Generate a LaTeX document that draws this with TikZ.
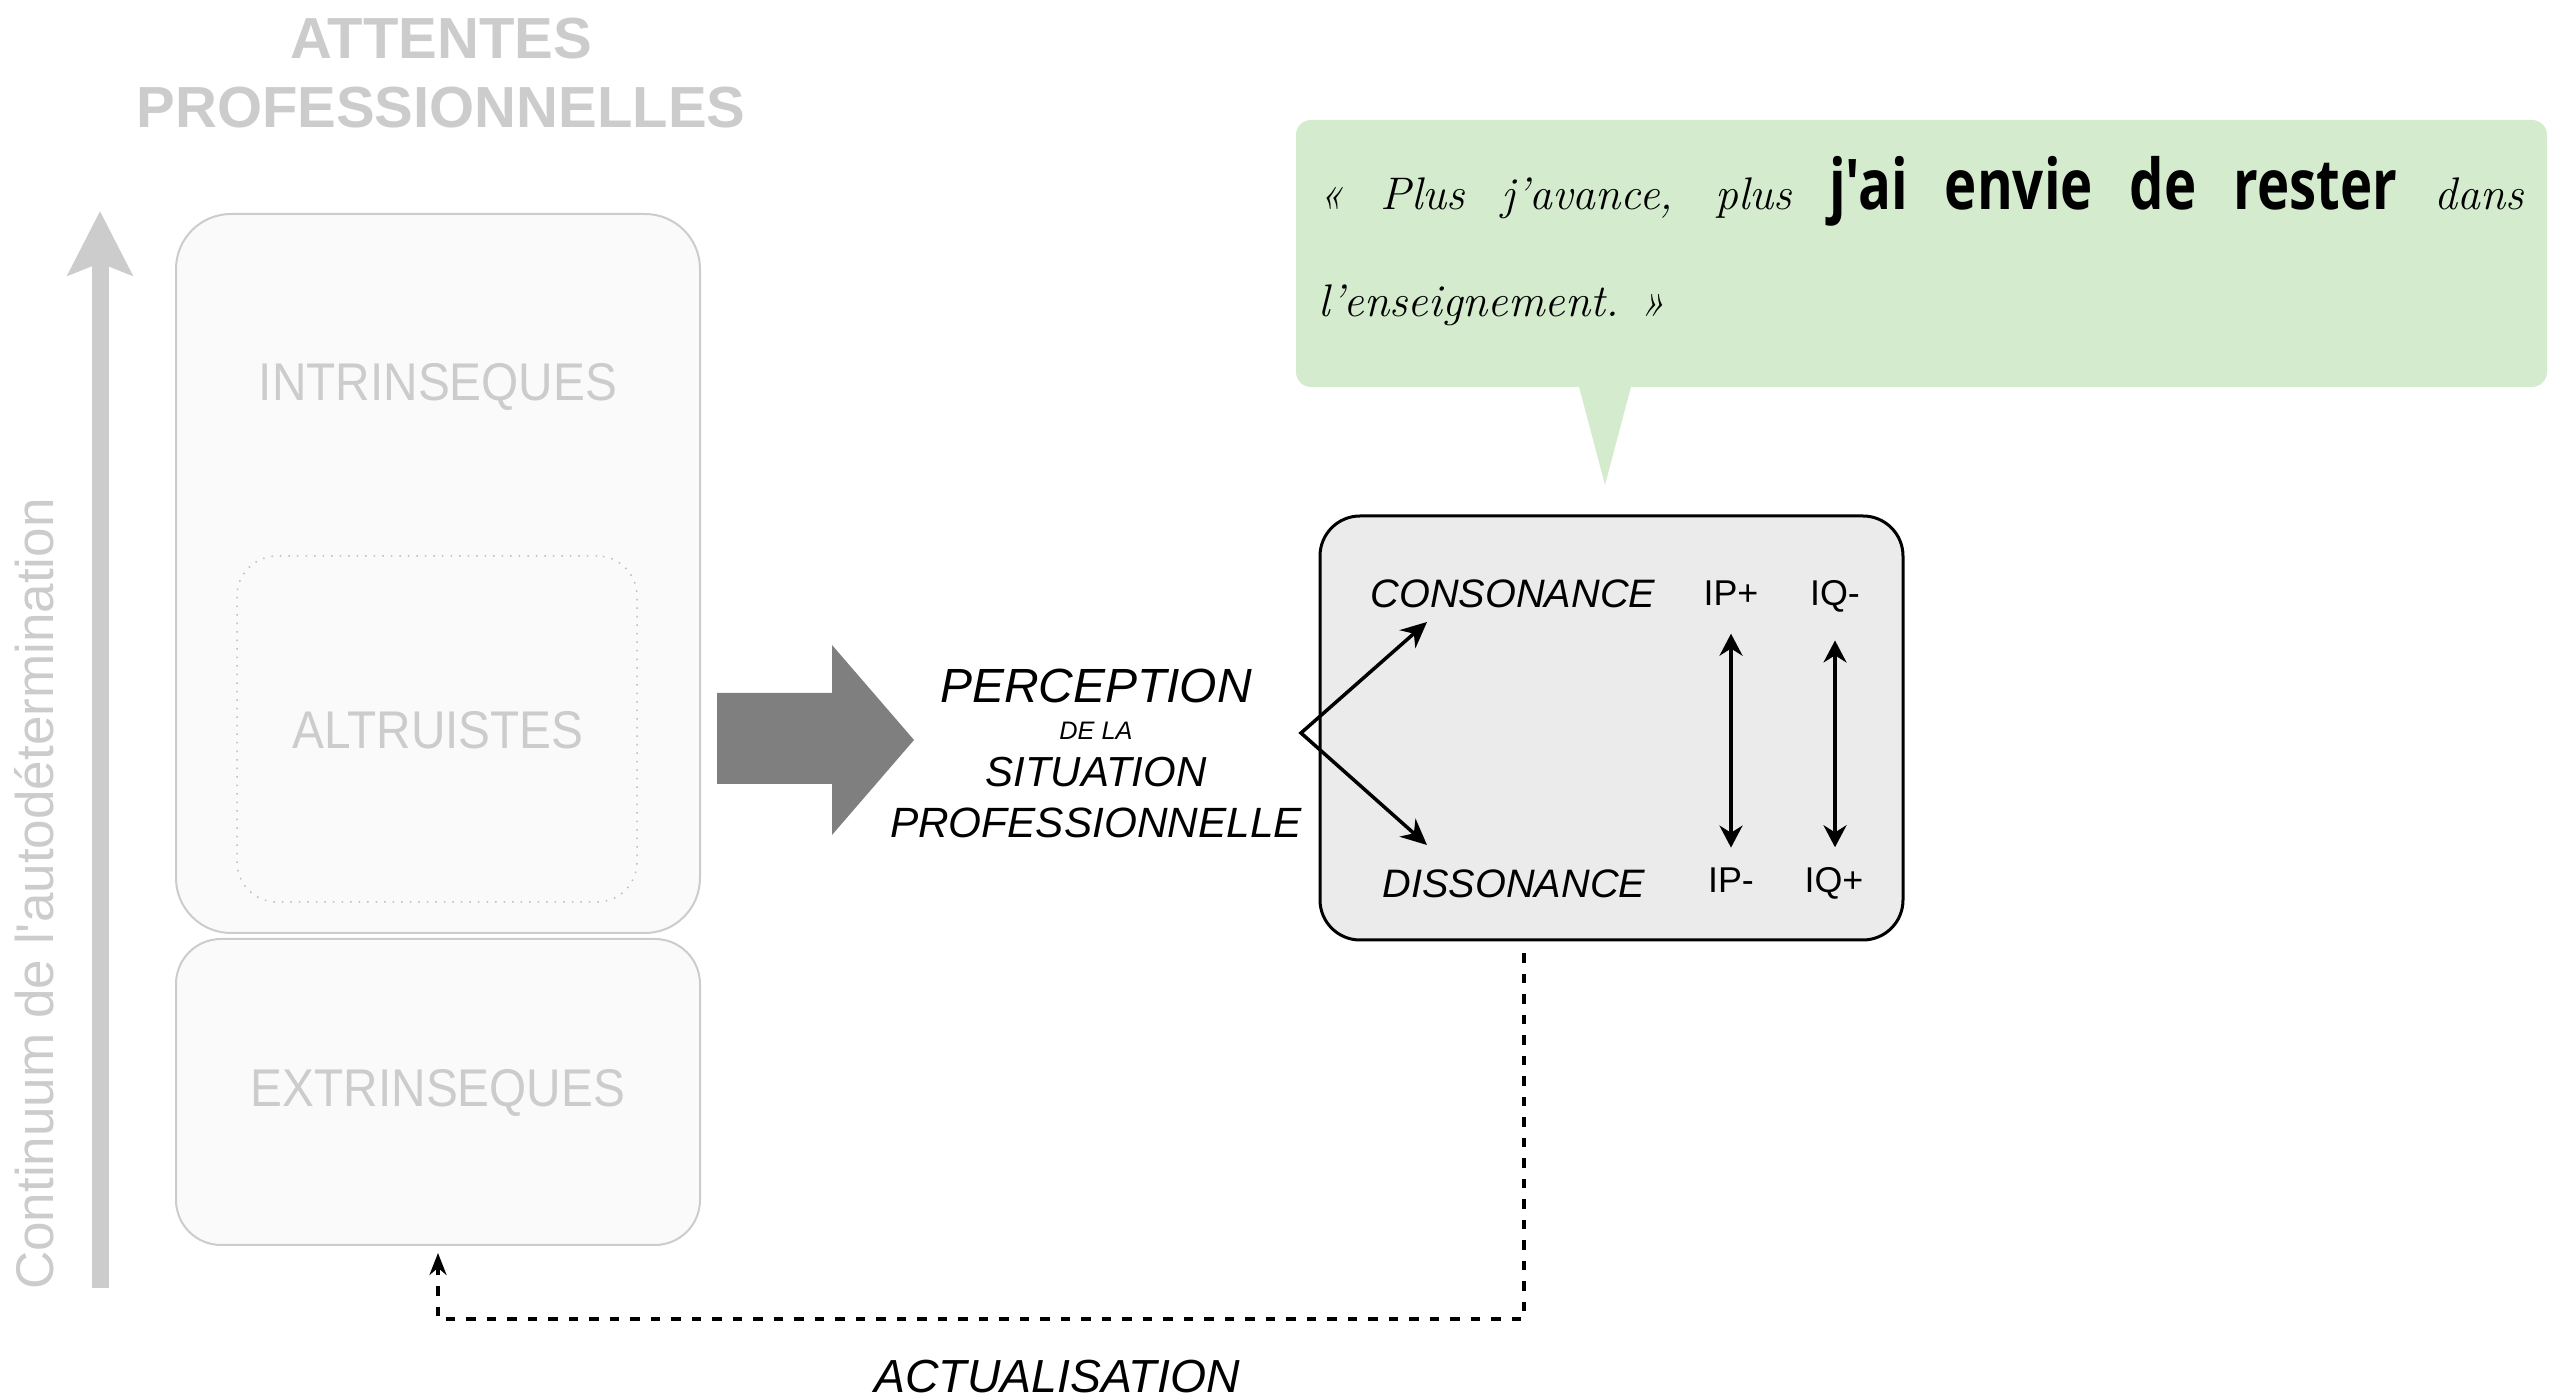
\documentclass[tikz,border=0pt]{standalone}
\usepackage{fontspec}
\usepackage{graphicx}
\usetikzlibrary{arrows.meta}
\newfontfamily\hv{Liberation Sans}
\newfontfamily\bqf{Open Sans}
\definecolor{lightline}{HTML}{CCCCCC}
\definecolor{lightfill}{HTML}{FAFAFA}
\definecolor{graytext}{HTML}{CCCCCC}
\definecolor{dotline}{HTML}{BDBDBD}
\definecolor{bigarrow}{HTML}{7F7F7F}
\definecolor{statefill}{HTML}{EBEBEB}
\definecolor{quotefill}{HTML}{D4EBCE}
\newcommand\bqw[1]{\scalebox{0.78}[1]{\bqf\upshape\bfseries\fontsize{19.9pt}{22pt}\selectfont #1}}
\newcommand\nrw[1]{\scalebox{0.9}[1]{#1}}
\tikzset{
  lightbox/.style={draw=lightline, fill=lightfill, line width=0.2mm, minimum width=52.4mm, inner sep=0},
  dotbox/.style={draw=dotline, dotted, line width=0.15mm, rounded corners=4mm, minimum width=40mm, minimum height=34.6mm, inner sep=0},
  titletxt/.style={text=graytext, inner sep=0, font=\hv\bfseries\fontsize{16.5pt}{19pt}\selectfont},
  graytxt/.style={text=graytext, inner sep=0, font=\hv\fontsize{15.1pt}{18pt}\selectfont},
  perctxt/.style={inner sep=0, font=\hv\itshape},
  statebox/.style={draw=black, fill=statefill, line width=0.3mm, rounded corners=4mm, minimum width=58.3mm, minimum height=42.4mm, inner sep=0},
  statetxt/.style={inner sep=0, font=\hv\itshape\fontsize{11.3pt}{13pt}\selectfont},
  ipqtxt/.style={inner sep=0, font=\hv\fontsize{10.2pt}{12pt}\selectfont},
  dblarrow/.style={line width=0.35mm, {Stealth[length=2.2mm,width=2.3mm]}-{Stealth[length=2.2mm,width=2.3mm]}},
  vline/.style={line width=0.35mm, miter limit=10, {Stealth[length=2.6mm,width=2.4mm]}-{Stealth[length=2.6mm,width=2.4mm]}},
  actline/.style={line width=0.4mm, dash pattern=on 0.95mm off 1.1mm, -{Stealth[length=2.2mm,width=1.7mm]}},
  quotebox/.style={fill=quotefill, rounded corners=1.5mm, minimum width=125.1mm, minimum height=26.7mm, inner sep=0},
  handtxt/.style={inner sep=0, font=\itshape\fontsize{13pt}{15pt}\selectfont},
}
\begin{document}
\begin{tikzpicture}[x=0.1mm,y=-0.1mm]
\useasboundingbox (0,0) rectangle (2566,1400);

% title
\node[titletxt, anchor=base] (title1) at (441,59) {ATTENTES};
\node[titletxt, anchor=base] (title2) at (441,128) {PROFESSIONNELLES};

% axis arrow
\coordinate (axisbot) at (100,1288);
\coordinate (axistop) at (100,211);
\draw[draw=graytext, line width=1.7mm, -{Stealth[length=6.4mm,width=6.4mm,inset=1.2mm]}] (axisbot) -- (axistop);
\node[graytxt, rotate=90, anchor=base] (axislabel) at (53,894) {Continuum de l'autodétermination};

% expectation boxes
\node[lightbox, rounded corners=5.5mm, minimum height=71.9mm] (intr) at (438,573.5) {};
\node[lightbox, rounded corners=4.5mm, minimum height=30.6mm] (extr) at (438,1092) {};
\node[dotbox] (altr) at (437,729) {};
\node[graytxt, anchor=base] (intrlabel) at (438,401) {\nrw{INTRINSEQUES}};
\node[graytxt, anchor=base] (altrlabel) at (438,749) {\nrw{ALTRUISTES}};
\node[graytxt, anchor=base] (extrlabel) at (438,1107) {\nrw{EXTRINSEQUES}};

% big arrow
\fill[bigarrow] (717,693) -- (832,693) -- (832,645) -- (914,740) -- (832,835) -- (832,784) -- (717,784) -- cycle;

% perception text
\node[perctxt, anchor=base, font=\hv\itshape\fontsize{13.65pt}{16pt}\selectfont] (perc1) at (1096,703) {PERCEPTION};
\node[perctxt, anchor=base, font=\hv\itshape\fontsize{7.2pt}{9pt}\selectfont] (perc2) at (1096,740) {DE LA};
\node[perctxt, anchor=base, font=\hv\itshape\fontsize{11.95pt}{14pt}\selectfont] (perc3) at (1096,787) {SITUATION};
\node[perctxt, anchor=base, font=\hv\itshape\fontsize{12.05pt}{14pt}\selectfont] (perc4) at (1096,838) {PROFESSIONNELLE};

% state box
\node[statebox] (state) at (1611.5,728) {};
\node[statetxt, anchor=base] (cons) at (1513,608) {CONSONANCE};
\node[statetxt, anchor=base] (diss) at (1514,898) {DISSONANCE};
\node[ipqtxt, anchor=base] (ipp) at (1731,606) {IP+};
\node[ipqtxt, anchor=base] (iqm) at (1835,606) {IQ-};
\node[ipqtxt, anchor=base] (ipm) at (1731,893) {IP-};
\node[ipqtxt, anchor=base] (iqp) at (1834,893) {IQ+};
\draw[dblarrow, shorten <=2.7mm, shorten >=2mm] (ipp.south) -- (ipp.south |- ipm.north);
\draw[dblarrow, shorten <=2.7mm, shorten >=2mm] (iqm.south) -- (iqm.south |- iqp.north);

\coordinate (split) at (1301,733);
\coordinate (consTip) at (1427,622);
\coordinate (dissTip) at (1427,845);
\draw[vline] (consTip) -- (split) -- (dissTip);

% actualisation loop
\draw[actline, shorten >=0.7mm] ([xshift=-8.75mm,yshift=-1.2mm]state.south) -- ++(0,366) -| (extr.south);
\node[perctxt, anchor=base, font=\hv\itshape\fontsize{13.2pt}{15pt}\selectfont] (actu) at (1057,1393) {ACTUALISATION};

% quote bubble
\node[quotebox] (quote) at (1921.5,253.5) {};
\coordinate (tailL) at (1578,383);
\coordinate (tailR) at (1632,383);
\coordinate (tailTip) at (1605,485);
\fill[quotefill] (tailL) -- (tailTip) -- (tailR) -- cycle;
\node[handtxt, anchor=base west] (quote1) at (1318,210) {\makebox[120.5mm][s]{« Plus j'avance, plus \bqw{j'ai} \bqw{envie} \bqw{de} \bqw{rester} dans}};
\node[handtxt, anchor=base west] (quote2) at (1318,317) {l'enseignement. »};
\end{tikzpicture}
\end{document}
